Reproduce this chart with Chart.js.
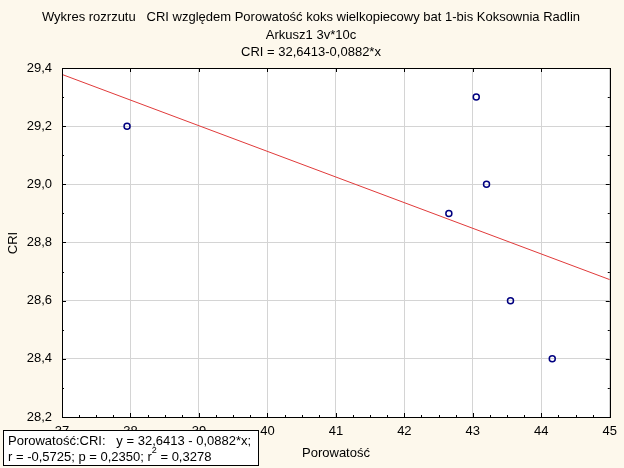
<!DOCTYPE html>
<html>
<head>
<meta charset="utf-8">
<script src="https://cdn.jsdelivr.net/npm/chart.js@4"></script>
<style>
  html, body { margin: 0; padding: 0; background: #fdf8ec; }
  #wrap { width: 624px; height: 468px; }
</style>
</head>
<body>
<div id="wrap"><canvas id="chart" width="624" height="468"></canvas></div>
<script>
// ---- data ----
const porowatosc = [37.95, 43.05, 43.2, 42.65, 43.55, 44.16];
const cri        = [29.2, 29.3, 29.0, 28.9, 28.6, 28.4];

// fitted line as printed on the chart
const intercept = 32.6413;
const slope = -0.0882;
const fitX = [37, 45];

const titleLines = [
  "Wykres rozrzutu   CRI względem Porowatość koks wielkopiecowy bat 1-bis Koksownia Radlin",
  "Arkusz1 3v*10c",
  "CRI = 32,6413-0,0882*x"
];
const legendLine1 = "Porowatość:CRI:   y = 32,6413 - 0,0882*x;";
const legendLine2a = "r = -0,5725; p = 0,2350; r";
const legendLine2b = " = 0,3278";

const FONT = "13px 'Liberation Sans', Arial, sans-serif";
const BG = "#fdf8ec";

const comma = v => v.toFixed(1).replace(".", ",");

const frame = {
  id: "frame",
  beforeDraw(c) {
    const ctx = c.ctx, a = c.chartArea;
    ctx.save();
    ctx.fillStyle = BG;
    ctx.fillRect(0, 0, c.width, c.height);
    ctx.fillStyle = "#ffffff";
    ctx.fillRect(a.left, a.top, a.right - a.left, a.bottom - a.top);
    ctx.restore();
  },
  afterDraw(c) {
    const ctx = c.ctx, a = c.chartArea;
    const xs = c.scales.x, ys = c.scales.y;
    ctx.save();
    // minor / major ticks, pointing inwards
    ctx.strokeStyle = "#000";
    ctx.lineWidth = 1;
    ctx.beginPath();
    for (let v = 37; v <= 45.001; v += 0.25) {
      const px = Math.round(xs.getPixelForValue(v)) + 0.5;
      const major = Math.abs(v - Math.round(v)) < 1e-6;
      const len = major ? 4 : 2;
      ctx.moveTo(px, a.bottom); ctx.lineTo(px, a.bottom - len);
      if (major) { ctx.moveTo(px, a.top); ctx.lineTo(px, a.top + len); }
    }
    for (let v = 28.2; v <= 29.401; v += 0.1) {
      const py = Math.round(ys.getPixelForValue(v)) + 0.5;
      const major = Math.round(v * 10) % 2 === 0;
      const len = major ? 4 : 2;
      ctx.moveTo(a.left, py); ctx.lineTo(a.left + len, py);
      ctx.moveTo(a.right, py); ctx.lineTo(a.right - len, py);
    }
    ctx.stroke();
    // frame
    ctx.strokeRect(Math.round(a.left) + 0.5, Math.round(a.top) + 0.5,
                   Math.round(a.right - a.left), Math.round(a.bottom - a.top));

    ctx.fillStyle = "#000";
    ctx.font = FONT;
    ctx.textBaseline = "middle";
    // titles
    ctx.textAlign = "center";
    ctx.fillText(titleLines[0], 311, 17);
    ctx.fillText(titleLines[1], 311, 35);
    ctx.fillText(titleLines[2], 311, 52);
    // axis titles
    ctx.fillText("Porowatość", 336, 453);
    ctx.save();
    ctx.translate(13, 243);
    ctx.rotate(-Math.PI / 2);
    ctx.fillText("CRI", 0, 0);
    ctx.restore();

    // regression box
    ctx.fillStyle = "#ffffff";
    ctx.fillRect(3, 430, 255, 36);
    ctx.strokeStyle = "#000";
    ctx.strokeRect(3.5, 430.5, 255, 35);
    ctx.fillStyle = "#000";
    ctx.textAlign = "left";
    ctx.fillText(legendLine1, 8, 441);
    ctx.fillText(legendLine2a, 8, 457);
    let w = ctx.measureText(legendLine2a).width;
    ctx.font = "9px 'Liberation Sans', Arial, sans-serif";
    ctx.fillText("2", 8 + w, 451);
    const w2 = ctx.measureText("2").width;
    ctx.font = FONT;
    ctx.fillText(legendLine2b, 8 + w + w2, 457);
    ctx.restore();
  }
};

new Chart(document.getElementById("chart"), {
  type: "scatter",
  data: {
    datasets: [
      {
        data: porowatosc.map((x, i) => ({ x: x, y: cri[i] })),
        pointStyle: "circle",
        pointRadius: 3,
        pointBorderWidth: 1.5,
        borderColor: "#000080",
        backgroundColor: "rgba(0,0,0,0)",
        order: 1
      },
      {
        type: "line",
        data: fitX.map(x => ({ x: x, y: intercept + slope * x })),
        borderColor: "#e03a3a",
        borderWidth: 1,
        pointRadius: 0,
        order: 2
      }
    ]
  },
  options: {
    responsive: false,
    animation: false,
    layout: { padding: { top: 68, right: 14, left: 0, bottom: 0 } },
    plugins: { legend: { display: false }, tooltip: { enabled: false } },
    scales: {
      x: {
        type: "linear",
        min: 37, max: 45,
        afterFit(s) { s.height = 51; },
        ticks: { stepSize: 1, color: "#000", font: { family: "'Liberation Sans', Arial", size: 13 }, padding: 7 },
        grid: { color: "#d4d4d4", drawTicks: false },
        border: { display: false }
      },
      y: {
        min: 28.2, max: 29.4,
        afterFit(s) { s.width = 62; },
        ticks: { stepSize: 0.2, color: "#000", font: { family: "'Liberation Sans', Arial", size: 13 }, padding: 10,
                 callback: v => comma(v) },
        grid: { color: "#d4d4d4", drawTicks: false },
        border: { display: false }
      }
    }
  },
  plugins: [frame]
});
</script>
</body>
</html>
